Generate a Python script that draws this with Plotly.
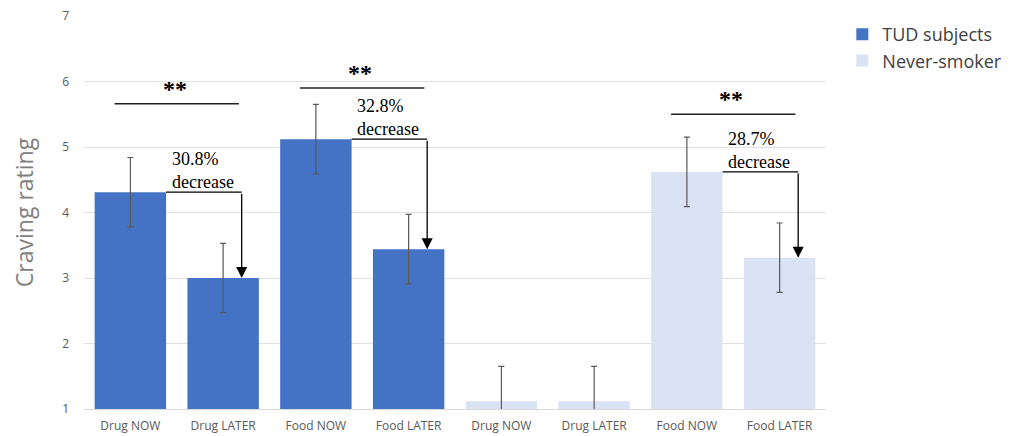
import plotly.graph_objects as go

categories = ["Drug NOW", "Drug LATER", "Food NOW", "Food LATER",
              "Drug NOW", "Drug LATER", "Food NOW", "Food LATER"]
tud_values = [4.31, 3.00, 5.12, 3.44, None, None, None, None]
never_values = [None, None, None, None, 1.12, 1.12, 4.62, 3.31]
tud_err = [0.53, 0.53, 0.53, 0.53, None, None, None, None]
never_err = [None, None, None, None, 0.53, 0.53, 0.53, 0.53]
all_values = [4.31, 3.00, 5.12, 3.44, 1.12, 1.12, 4.62, 3.31]
# comparisons: (now index, later index, bracket height, label)
comparisons = [(0, 1, 5.66, "30.8%<br>decrease"),
               (2, 3, 5.90, "32.8%<br>decrease"),
               (6, 7, 5.50, "28.7%<br>decrease")]

BAR_W = 0.77
xs = list(range(len(categories)))

fig = go.Figure()
fig.add_trace(go.Bar(
    x=xs, y=tud_values, width=BAR_W, name="TUD subjects",
    marker=dict(color="#4472C4", line=dict(width=0)),
    error_y=dict(type="data", array=tud_err, visible=True,
                 color="#595959", thickness=1.2, width=3),
))
fig.add_trace(go.Bar(
    x=xs, y=never_values, width=BAR_W, name="Never-smoker",
    marker=dict(color="#DAE3F3", line=dict(width=0)),
    error_y=dict(type="data", array=never_err, visible=True,
                 color="#595959", thickness=1.2, width=3),
))

shapes = []
annotations = []
for now_i, later_i, bh, label in comparisons:
    v_now = all_values[now_i]
    v_later = all_values[later_i]
    x_arrow = later_i + 0.2
    # significance bracket
    shapes.append(dict(type="line", xref="x", yref="y",
                       x0=now_i - 0.17, x1=later_i + 0.17, y0=bh, y1=bh,
                       line=dict(color="#202020", width=1.5)))
    annotations.append(dict(x=(now_i + later_i) / 2 - 0.02, y=bh, xref="x", yref="y",
                            text="<b>**</b>", showarrow=False, yanchor="bottom", yshift=0,
                            font=dict(family="Liberation Serif", size=24, color="#000000")))
    # horizontal connector from NOW bar top
    shapes.append(dict(type="line", xref="x", yref="y",
                       x0=now_i + BAR_W / 2, x1=x_arrow, y0=v_now, y1=v_now,
                       line=dict(color="#000000", width=1.3)))
    # vertical arrow down to LATER bar top
    annotations.append(dict(x=x_arrow, y=v_later, xref="x", yref="y",
                            ax=x_arrow, ay=v_now, axref="x", ayref="y",
                            text="", showarrow=True, arrowhead=2, arrowsize=1.7,
                            arrowwidth=1.3, arrowcolor="#000000", standoff=0))
    # percent label
    annotations.append(dict(x=now_i + BAR_W / 2 + 0.04, y=v_now, xref="x", yref="y",
                            text=label, showarrow=False, xanchor="left", yanchor="bottom",
                            align="left", yshift=-2,
                            font=dict(family="Liberation Serif", size=18, color="#000000")))

fig.update_layout(
    width=1023, height=436,
    margin=dict(l=84, r=197, t=16, b=27),
    paper_bgcolor="white", plot_bgcolor="white",
    barmode="overlay",
    showlegend=True,
    legend=dict(x=1.022, y=1.0, xanchor="left", yanchor="top",
                font=dict(family="Open Sans", size=18, color="#404040"),
                itemwidth=30, tracegroupgap=0),
    shapes=shapes, annotations=annotations,
    font=dict(family="Open Sans", color="#595959"),
)
fig.update_xaxes(
    tickmode="array", tickvals=xs, ticktext=categories,
    range=[-0.5, len(categories) - 0.5], automargin=False,
    showgrid=False, showline=True, linecolor="#D9D9D9", linewidth=1,
    ticks="", ticklabelstandoff=6,
    tickfont=dict(family="Open Sans", size=12, color="#595959"),
    zeroline=False,
)
fig.update_yaxes(
    range=[1, 7], dtick=1, showgrid=True, gridcolor="#E0E0E0", gridwidth=1,
    showline=False, zeroline=False, ticks="", automargin=False,
    ticklabelstandoff=14,
    tickfont=dict(family="Open Sans", size=12, color="#595959"),
    title=dict(text="Craving rating", standoff=22,
               font=dict(family="Open Sans", size=23, color="#808080")),
)

fig.write_html("out.html")
